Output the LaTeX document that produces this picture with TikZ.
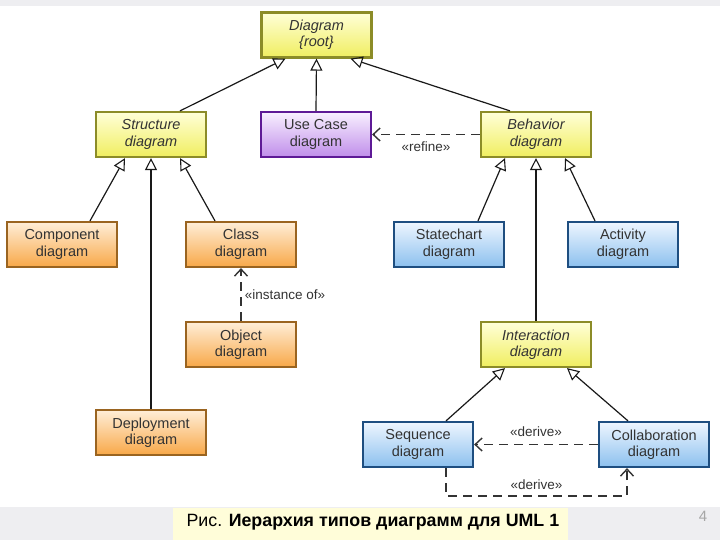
\documentclass[tikz,border=0pt]{standalone}
\usepackage{fontspec}
\setmainfont{Liberation Sans}
\usetikzlibrary{arrows.meta}
\definecolor{yelB}{HTML}{8C8C28}
\definecolor{yelT}{HTML}{FFFFD8}
\definecolor{yelBot}{HTML}{F0EE60}
\definecolor{purB}{HTML}{5E1A96}
\definecolor{purT}{HTML}{F8F0FF}
\definecolor{purBot}{HTML}{C08EEA}
\definecolor{oraB}{HTML}{9A6420}
\definecolor{oraT}{HTML}{FFEED8}
\definecolor{oraBot}{HTML}{F8A848}
\definecolor{bluB}{HTML}{1E4E80}
\definecolor{bluT}{HTML}{EEF6FF}
\definecolor{bluBot}{HTML}{8CC0EE}
\definecolor{txt}{HTML}{333333}
\begin{document}
\begin{tikzpicture}[x=1pt,y=-1pt,
  base/.style={draw, line width=2.2pt, minimum width=110pt, minimum height=45pt, align=center, font=\fontsize{14.5}{16.5}\selectfont, inner sep=2pt, text=txt},
  yel/.style={base, draw=yelB, top color=yelT, bottom color=yelBot},
  pur/.style={base, draw=purB, top color=purT, bottom color=purBot},
  ora/.style={base, draw=oraB, top color=oraT, bottom color=oraBot},
  blu/.style={base, draw=bluB, top color=bluT, bottom color=bluBot},
  gen/.style={draw=black!90, line width=1.2pt, -{Triangle[open,length=12pt,width=12pt,line width=1.1pt]}},
  dep/.style={draw=black!80, line width=1.7pt, dash pattern=on 9pt off 6pt, -{Straight Barb[length=7pt,width=13pt,line width=1.4pt]}},
  lab/.style={font=\fontsize{13.5}{15}\selectfont, text=txt, inner sep=1pt}
]
\useasboundingbox (0,0) rectangle (720,540);
\fill[blue!8!gray!12] (0,0) rectangle (720,6);
\fill[blue!8!gray!12] (0,507) rectangle (720,540);
\fill[yellow!15] (173,508) rectangle (568,540);
\node[font=\fontsize{17.8}{19}\selectfont, anchor=west] (cap) at (183,522.5) {Рис. \textbf{Иерархия типов диаграмм для UML 1}};
\node[font=\fontsize{15}{17}\selectfont, text=gray!70] (pg) at (703,516) {4};

\node[yel] (root) at (316.5,35) {\itshape Diagram\\\itshape \{root\}};
\node[yel] (str) at (151,134.5) {\itshape Structure\\\itshape diagram};
\node[pur] (uc) at (316,134.5) {Use Case\\diagram};
\node[yel] (beh) at (536,134.5) {\itshape Behavior\\\itshape diagram};
\node[ora] (comp) at (62,244.5) {Component\\diagram};
\node[ora] (cls) at (241,244.5) {Class\\diagram};
\node[blu] (st) at (449,244.5) {Statechart\\diagram};
\node[blu] (act) at (623,244.5) {Activity\\diagram};
\node[ora] (obj) at (241,344.5) {Object\\diagram};
\node[yel] (inter) at (536,344.5) {\itshape Interaction\\\itshape diagram};
\node[ora] (dep) at (151,432.5) {Deployment\\diagram};
\node[blu] (seq) at (418,444.5) {Sequence\\diagram};
\node[blu] (col) at (654,444.5) {Collaboration\\diagram};

\draw[gen] ([xshift=29pt]str.north) -- ([xshift=-31pt]root.south);
\draw[gen] (uc.north) -- (root.south);
\draw[gen] ([xshift=-26pt]beh.north) -- ([xshift=34pt]root.south);
\draw[dep] (beh.west) -- node[lab, below=5pt] {«refine»} (uc.east);

\draw[gen] ([xshift=28pt]comp.north) -- ([xshift=-26pt]str.south);
\draw[gen] (dep.north) -- (str.south);
\draw[gen] ([xshift=-26pt]cls.north) -- ([xshift=29pt]str.south);
\draw[dep] (obj.north) -- node[lab, right=2pt] {«instance of»} (cls.south);

\draw[gen] ([xshift=29pt]st.north) -- ([xshift=-31pt]beh.south);
\draw[gen] ([xshift=-28pt]act.north) -- ([xshift=29pt]beh.south);
\draw[gen] (inter.north) -- (beh.south);

\draw[gen] ([xshift=28pt]seq.north) -- ([xshift=-31pt]inter.south);
\draw[gen] ([xshift=-26pt]col.north) -- ([xshift=31pt]inter.south);
\draw[dep] (col.west) -- node[lab, above=6pt] {«derive»} (seq.east);
\coordinate (c1) at ([xshift=28pt]seq.south);
\coordinate (c2) at ([xshift=-27pt]col.south);
\draw[dep] (c1) -- ++(0,28) -| node[lab, pos=0.25, above=5pt] {«derive»} (c2);
\end{tikzpicture}
\end{document}
